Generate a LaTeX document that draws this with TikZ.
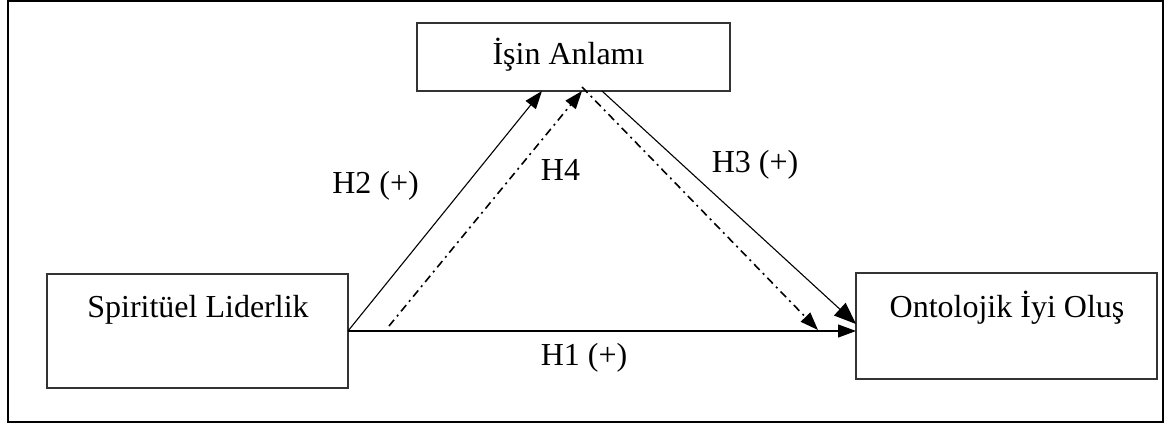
\documentclass[tikz,border=0pt]{standalone}
\usepackage{fontspec}
\setmainfont{Liberation Serif}
\usetikzlibrary{arrows.meta}
\begin{document}
\begin{tikzpicture}[x=1pt,y=-1pt,
  box/.style={draw=black!80,line width=1.2pt,inner sep=0pt,outer sep=0pt},
  txt/.style={anchor=base,inner sep=0pt,font=\fontsize{32}{38}\selectfont},
  conn/.style={line width=1.1pt,-{Triangle[length=18pt,width=13pt]}},
  dashdot/.style={line width=1.6pt,dash pattern=on 8pt off 4.5pt on 2pt off 4.5pt,-{Triangle[length=18pt,width=13pt]}}]
\useasboundingbox (0,0) rectangle (1166,425);
\draw[line width=1.4pt] (8,1) rectangle (1163,422);
% boxes
\node[box,minimum width=313pt,minimum height=68pt] (ia) at (573.5,57) {};
\node[box,minimum width=301pt,minimum height=114pt] (sl) at (197.5,331) {};
\node[box,minimum width=301pt,minimum height=106pt] (ob) at (1006.5,326) {};
% texts
\node[txt] (iat) at (568.5,65) {İşin Anlamı};
\node[txt] (slt) at (198,317) {Spiritüel Liderlik};
\node[txt] (obt) at (1007,317) {Ontolojik İyi Oluş};
% labels
\node[txt] (h2) at (375.5,193) {H2 (+)};
\node[txt] (h4) at (560.5,180) {H4};
\node[txt] (h3) at (755,172) {H3 (+)};
\node[txt] (h1) at (584,365) {H1 (+)};
% helper coordinates
\coordinate (h4s) at (389,326);
\coordinate (h4e) at (818,330);
% connectors
\draw[conn] (sl.east) -- ([xshift=-31.5pt]ia.south);
\draw[conn] (sl.east) -- (sl.east -| ob.west);
\draw[conn,-{Triangle[length=22pt,width=17pt]}] ([xshift=28.5pt]ia.south) -- ([yshift=2pt]ob.west);
\draw[dashdot] (h4s) -- ([xshift=8.5pt]ia.south);
\draw[dashdot] ([xshift=8.5pt,yshift=4pt]ia.south) -- (h4e);
\end{tikzpicture}
\end{document}
